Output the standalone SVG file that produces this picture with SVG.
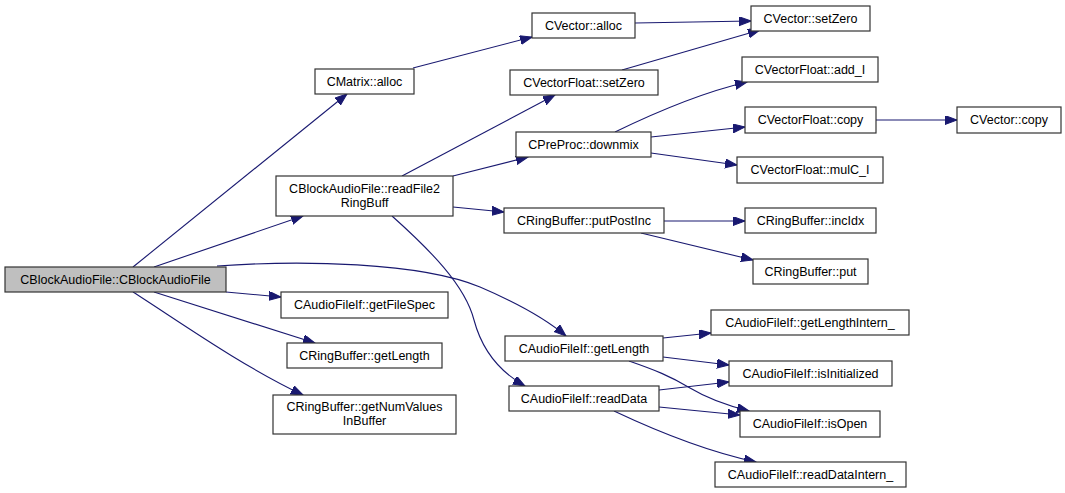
<svg xmlns="http://www.w3.org/2000/svg" width="1065" height="493" viewBox="0 0 1065 493">
<defs>
<marker id="arr" markerUnits="userSpaceOnUse" markerWidth="13" markerHeight="10" refX="12" refY="4.5" orient="auto">
<path d="M0,0 L12,4.5 L0,9 z" fill="#191970" stroke="#191970" stroke-width="1"/>
</marker>
<style>
.n rect{fill:#ffffff;stroke:#333333;stroke-width:1.2}
.n.root rect{fill:#bfbfbf}
.n text{font-family:"Liberation Sans",Arial,sans-serif;font-size:12.5px;text-anchor:middle;fill:#000000}
#edges path{fill:none;stroke:#191970;stroke-width:1.1;marker-end:url(#arr)}
</style>
</defs>
<rect width="1065" height="493" fill="#ffffff"/>
<g id="edges">
<path d="M133,267 L347,94"/>
<path d="M154,267 L303,216"/>
<path d="M217,266 C300,260 420,262 480,287 C515,302 545,318 566,336"/>
<path d="M226,292 L281,297"/>
<path d="M154,292 L315,343"/>
<path d="M133,292 C180,322 240,365 303,395"/>
<path d="M413,68 L532,37"/>
<path d="M402,176 L555,95"/>
<path d="M453,176 L528,157"/>
<path d="M453,207 L504,212"/>
<path d="M392,216 C430,250 465,285 474,320 C482,350 500,372 525,386"/>
<path d="M635,23 L751,21"/>
<path d="M622,70 L760,30"/>
<path d="M615,132 C650,115 700,93 747,82"/>
<path d="M651,137 L745,127"/>
<path d="M651,153 L737,165"/>
<path d="M876,120 L957,120"/>
<path d="M664,221 L745,221"/>
<path d="M641,233 L753,260"/>
<path d="M663,338 L711,333"/>
<path d="M663,357 L729,365"/>
<path d="M629,361 C655,370 670,376 690,388 C705,397 725,405 749,411"/>
<path d="M659,390 L729,382"/>
<path d="M659,407 L740,415"/>
<path d="M614,411 C650,428 700,450 756,462"/>
</g>
<g id="n_root" class="n root"><rect x="5" y="267" width="221" height="25"/><text x="115.5" y="284">CBlockAudioFile::CBlockAudioFile</text></g>
<g id="n_cmatrix_alloc" class="n"><rect x="315" y="69" width="99" height="25"/><text x="364.5" y="86">CMatrix::alloc</text></g>
<g id="n_readfile2ringbuff" class="n"><rect x="276" y="176" width="177" height="40"/><text x="364.5" y="193">CBlockAudioFile::readFile2</text><text x="364.5" y="207">RingBuff</text></g>
<g id="n_getfilespec" class="n"><rect x="281" y="292" width="167" height="26"/><text x="364.5" y="309">CAudioFileIf::getFileSpec</text></g>
<g id="n_rb_getlength" class="n"><rect x="287" y="343" width="155" height="25"/><text x="364.5" y="360">CRingBuffer::getLength</text></g>
<g id="n_getnumvalues" class="n"><rect x="273" y="395" width="183" height="39"/><text x="364.5" y="411">CRingBuffer::getNumValues</text><text x="364.5" y="425">InBuffer</text></g>
<g id="n_cvector_alloc" class="n"><rect x="532" y="13" width="103" height="25"/><text x="583.5" y="30">CVector::alloc</text></g>
<g id="n_cvf_setzero" class="n"><rect x="510" y="70" width="148" height="25"/><text x="584" y="87">CVectorFloat::setZero</text></g>
<g id="n_downmix" class="n"><rect x="516" y="132" width="135" height="25"/><text x="583.5" y="149">CPreProc::downmix</text></g>
<g id="n_putpostinc" class="n"><rect x="504" y="208" width="160" height="25"/><text x="584" y="225">CRingBuffer::putPostInc</text></g>
<g id="n_af_getlength" class="n"><rect x="505" y="336" width="158" height="25"/><text x="584" y="353">CAudioFileIf::getLength</text></g>
<g id="n_readdata" class="n"><rect x="509" y="386" width="150" height="25"/><text x="584" y="403">CAudioFileIf::readData</text></g>
<g id="n_cvector_setzero" class="n"><rect x="751" y="6" width="119" height="25"/><text x="810.5" y="23">CVector::setZero</text></g>
<g id="n_add_i" class="n"><rect x="742" y="57" width="136" height="25"/><text x="810" y="74">CVectorFloat::add_I</text></g>
<g id="n_cvf_copy" class="n"><rect x="745" y="107" width="131" height="26"/><text x="810.5" y="124">CVectorFloat::copy</text></g>
<g id="n_mulc_i" class="n"><rect x="737" y="157" width="146" height="26"/><text x="810" y="174">CVectorFloat::mulC_I</text></g>
<g id="n_incidx" class="n"><rect x="745" y="208" width="131" height="25"/><text x="810.5" y="225">CRingBuffer::incIdx</text></g>
<g id="n_put" class="n"><rect x="753" y="259" width="115" height="25"/><text x="810.5" y="276">CRingBuffer::put</text></g>
<g id="n_getlengthintern" class="n"><rect x="711" y="310" width="198" height="25"/><text x="810" y="327">CAudioFileIf::getLengthIntern_</text></g>
<g id="n_isinitialized" class="n"><rect x="729" y="361" width="163" height="25"/><text x="810.5" y="378">CAudioFileIf::isInitialized</text></g>
<g id="n_isopen" class="n"><rect x="740" y="411" width="140" height="26"/><text x="810" y="428">CAudioFileIf::isOpen</text></g>
<g id="n_readdataintern" class="n"><rect x="715" y="462" width="191" height="25"/><text x="810.5" y="479">CAudioFileIf::readDataIntern_</text></g>
<g id="n_cvector_copy" class="n"><rect x="957" y="107" width="104" height="26"/><text x="1009" y="124">CVector::copy</text></g>
</svg>
